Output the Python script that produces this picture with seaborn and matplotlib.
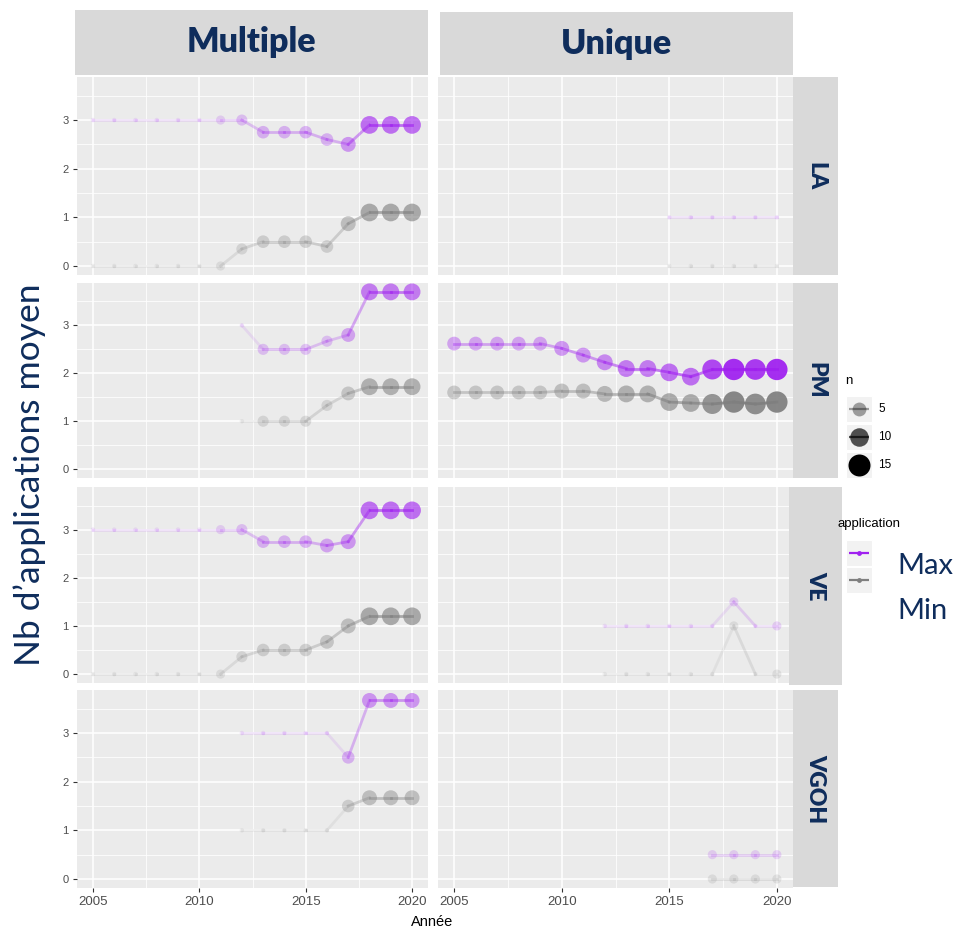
import numpy as np
import pandas as pd
import matplotlib
matplotlib.use("Agg")
import matplotlib.pyplot as plt
from matplotlib.lines import Line2D
from matplotlib.patches import Rectangle
import seaborn as sns

# ---- data: mean number of applications per year, by system and crop ----
years_full = list(range(2005, 2021))

la_mult_years = years_full
la_mult_max = [3, 3, 3, 3, 3, 3, 3.0, 3.0, 2.75, 2.75, 2.75, 2.6, 2.5, 2.9, 2.9, 2.9]
la_mult_min = [0, 0, 0, 0, 0, 0, 0, 0.35, 0.5, 0.5, 0.5, 0.4, 0.87, 1.1, 1.1, 1.1]
la_mult_n = [1, 1, 1, 1, 1, 1, 2, 3, 4, 4, 4, 4, 6, 9, 9, 9]

pm_mult_years = list(range(2012, 2021))
pm_mult_max = [3.0, 2.5, 2.5, 2.5, 2.67, 2.8, 3.7, 3.7, 3.7]
pm_mult_min = [1.0, 1.0, 1.0, 1.0, 1.33, 1.58, 1.72, 1.72, 1.72]
pm_mult_n = [1, 3, 3, 3, 3, 5, 8, 8, 8]

ve_mult_years = years_full
ve_mult_max = [3, 3, 3, 3, 3, 3, 3.0, 3.0, 2.75, 2.75, 2.75, 2.67, 2.75, 3.4, 3.4, 3.4]
ve_mult_min = [0, 0, 0, 0, 0, 0, 0, 0.36, 0.5, 0.5, 0.5, 0.67, 1.0, 1.2, 1.2, 1.2]
ve_mult_n = [1, 1, 1, 1, 1, 1, 2, 3, 4, 4, 4, 5, 6, 9, 9, 9]

vgoh_mult_years = list(range(2012, 2021))
vgoh_mult_max = [3, 3, 3, 3, 3, 2.5, 3.67, 3.67, 3.67]
vgoh_mult_min = [1, 1, 1, 1, 1, 1.5, 1.67, 1.67, 1.67]
vgoh_mult_n = [1, 1, 1, 1, 1, 4, 6, 6, 6]

la_uni_years = list(range(2015, 2021))
la_uni_max = [1, 1, 1, 1, 1, 1]
la_uni_min = [0, 0, 0, 0, 0, 0]
la_uni_n = [1, 1, 1, 1, 1, 1]

pm_uni_years = years_full
pm_uni_max = [2.62, 2.62, 2.62, 2.62, 2.62, 2.52, 2.38, 2.23, 2.1, 2.1, 2.02, 1.93, 2.08, 2.08, 2.08, 2.08]
pm_uni_min = [1.6, 1.6, 1.6, 1.6, 1.6, 1.63, 1.63, 1.57, 1.57, 1.57, 1.4, 1.38, 1.36, 1.4, 1.36, 1.4]
pm_uni_n = [5, 5, 5, 5, 5, 6, 6, 7, 8, 8, 9, 9, 12, 14, 13, 14]

ve_uni_years = list(range(2012, 2021))
ve_uni_max = [1, 1, 1, 1, 1, 1, 1.5, 1, 1]
ve_uni_min = [0, 0, 0, 0, 0, 0, 1, 0, 0]
ve_uni_n = [1, 1, 1, 1, 1, 1, 2, 1, 2]

vgoh_uni_years = list(range(2017, 2021))
vgoh_uni_max = [0.5, 0.5, 0.5, 0.5]
vgoh_uni_min = [0, 0, 0, 0]
vgoh_uni_n = [2, 2, 2, 2]

systems = ["Multiple", "Unique"]
crops = ["LA", "PM", "VE", "VGOH"]
applications = ["Max", "Min"]
n_breaks = [5, 10, 15]

facets = {
    ("Multiple", "LA"): (la_mult_years, la_mult_max, la_mult_min, la_mult_n),
    ("Multiple", "PM"): (pm_mult_years, pm_mult_max, pm_mult_min, pm_mult_n),
    ("Multiple", "VE"): (ve_mult_years, ve_mult_max, ve_mult_min, ve_mult_n),
    ("Multiple", "VGOH"): (vgoh_mult_years, vgoh_mult_max, vgoh_mult_min, vgoh_mult_n),
    ("Unique", "LA"): (la_uni_years, la_uni_max, la_uni_min, la_uni_n),
    ("Unique", "PM"): (pm_uni_years, pm_uni_max, pm_uni_min, pm_uni_n),
    ("Unique", "VE"): (ve_uni_years, ve_uni_max, ve_uni_min, ve_uni_n),
    ("Unique", "VGOH"): (vgoh_uni_years, vgoh_uni_max, vgoh_uni_min, vgoh_uni_n),
}

rows = []
for (sysname, crop), (yrs, vmax, vmin, nn) in facets.items():
    for app, vals in (("Max", vmax), ("Min", vmin)):
        for yr, v, k in zip(yrs, vals, nn):
            rows.append(dict(systeme=sysname, culture=crop, application=app,
                             Annee=yr, valeur=v, n=k))
df = pd.DataFrame(rows)

# ---- styling ----
plt.rcParams["font.family"] = ["Liberation Sans", "DejaVu Sans"]
TITLE_FONT = ["Lato", "DejaVu Sans"]
NAVY = "#0F2D5C"
colors = {"Max": "#A020F0", "Min": "#7F7F7F"}
N_MIN, N_MAX = 1, 15


def alpha_of(n):
    return 0.1 + 0.9 * (n - N_MIN) / (N_MAX - N_MIN)


def diam_px(n):
    return 4.5 + 17.5 * np.sqrt((n - N_MIN) / (N_MAX - N_MIN))


size_map = {int(k): (diam_px(k) * 0.72) ** 2 for k in range(N_MIN, N_MAX + 1)}

W, H = 965, 933
fig = plt.figure(figsize=(W / 100, H / 100), dpi=100)


def box(x0, y0, x1, y1):
    return fig.add_axes([x0 / W, 1 - y1 / H, (x1 - x0) / W, (y1 - y0) / H])


def fxy(px, py):
    return px / W, 1 - py / H


col_x = [(77, 428), (438, 793)]
row_y = [(77, 275), (283, 478), (487, 683), (690, 888)]

for ci, sysname in enumerate(systems):
    for ri, crop in enumerate(crops):
        ax = box(col_x[ci][0], row_y[ri][0], col_x[ci][1], row_y[ri][1])
        ax.set_facecolor("#EBEBEB")
        for sp in ax.spines.values():
            sp.set_visible(False)
        sub = df[(df.systeme == sysname) & (df.culture == crop)]

        # connecting lines, each segment carrying the alpha of its start point
        for app in applications:
            s = sub[sub.application == app].sort_values("Annee")
            xs, ys, ns = s.Annee.values, s.valeur.values, s.n.values
            for i in range(len(xs) - 1):
                sns.lineplot(x=[xs[i], xs[i + 1]], y=[ys[i], ys[i + 1]],
                             estimator=None, sort=False, color=colors[app],
                             alpha=alpha_of(ns[i]), lw=2.0, ax=ax, legend=False)
        # points sized and faded by n
        for app in applications:
            s = sub[sub.application == app].sort_values("Annee")
            sns.scatterplot(data=s, x="Annee", y="valeur", size="n",
                            sizes=size_map, legend=False, ax=ax,
                            color=colors[app], linewidth=0)
            coll = ax.collections[-1]
            base = matplotlib.colors.to_rgb(colors[app])
            coll.set_facecolor([(*base, alpha_of(k)) for k in s.n.values])
            coll.set_edgecolor("none")

        ax.set_xlim(2004.25, 2020.75)
        ax.set_ylim(-0.185, 3.885)
        ax.set_xticks([2005, 2010, 2015, 2020])
        ax.set_xticks([2007.5, 2012.5, 2017.5], minor=True)
        ax.set_yticks([0, 1, 2, 3])
        ax.set_yticks([0.5, 1.5, 2.5, 3.5], minor=True)
        ax.grid(which="major", color="white", lw=1.1)
        ax.grid(which="minor", color="white", lw=0.55)
        ax.set_axisbelow(True)
        ax.tick_params(which="minor", length=0)
        ax.set_xlabel("")
        ax.set_ylabel("")
        if ci == 0:
            ax.tick_params(axis="y", length=3, color="#333333", labelsize=8,
                           labelcolor="#4D4D4D", pad=3)
        else:
            ax.tick_params(axis="y", left=False, labelleft=False)
        if ri == len(crops) - 1:
            ax.tick_params(axis="x", length=3, color="#333333", labelsize=9.5,
                           labelcolor="#4D4D4D", pad=3)
        else:
            ax.tick_params(axis="x", bottom=False, labelbottom=False)

# facet strips
top_strips = [(75, 10, 428, 75), (440, 12, 793, 75)]
for (x0, y0, x1, y1), label in zip(top_strips, systems):
    sa = box(x0, y0, x1, y1)
    sa.set_facecolor("#D9D9D9")
    sa.set_xticks([]); sa.set_yticks([])
    for sp in sa.spines.values():
        sp.set_visible(False)
    sa.text(0.5, 0.5, label, ha="center", va="center", fontsize=24.5,
            fontweight="heavy", color=NAVY, family=TITLE_FONT,
            transform=sa.transAxes)

side_strips = [(793, 77, 838, 275), (793, 283, 838, 478),
               (789, 487, 842, 685), (793, 690, 838, 887)]
for (x0, y0, x1, y1), label in zip(side_strips, crops):
    sa = box(x0, y0, x1, y1)
    sa.set_facecolor("#D9D9D9")
    sa.set_xticks([]); sa.set_yticks([])
    for sp in sa.spines.values():
        sp.set_visible(False)
    sa.text(0.5, 0.5, label, ha="center", va="center", fontsize=16.5,
            fontweight="heavy", color=NAVY, rotation=270, family=TITLE_FONT,
            transform=sa.transAxes)

# axis titles
fig.text(*fxy(30, 475), "Nb d’applications moyen", rotation=90,
         ha="center", va="center", fontsize=25.5, color=NAVY, family=TITLE_FONT)
fig.text(*fxy(432, 922), "Année", ha="center", va="center",
         fontsize=10.5, color="black")


# ---- legends, drawn as keys in figure space ----
def legend_key(cy, color, alpha, ms, x0=846, x1=872):
    fig.add_artist(Rectangle(fxy(x0, cy + 13), (x1 - x0) / W, 26 / H,
                             transform=fig.transFigure, facecolor="#F2F2F2",
                             edgecolor="white", lw=0.8))
    fig.add_artist(Line2D([(x0 + 3) / W, (x1 - 3) / W], [1 - cy / H] * 2,
                          transform=fig.transFigure, color=color, alpha=alpha,
                          lw=1.6, solid_capstyle="butt"))
    fig.add_artist(Line2D([(x0 + x1) / 2 / W], [1 - cy / H],
                          transform=fig.transFigure, color=color, alpha=alpha,
                          marker="o", markersize=ms, markeredgewidth=0,
                          linestyle="none"))


fig.text(*fxy(845, 381), "n", ha="left", va="center", fontsize=9.5)
for cy, k in zip([409, 437, 465], n_breaks):
    legend_key(cy, "black", alpha_of(k), diam_px(k) * 0.72)
    fig.text(*fxy(878, cy), str(k), ha="left", va="center", fontsize=8.5)

fig.text(*fxy(838, 524), "application", ha="left", va="center", fontsize=9.5)
for cy, app in zip([553, 580], applications):
    legend_key(cy, colors[app], 1.0, 3.5)
fig.text(*fxy(897, 566), "Max", ha="left", va="center", fontsize=21,
         color=NAVY, family=TITLE_FONT)
fig.text(*fxy(897, 611), "Min", ha="left", va="center", fontsize=21,
         color=NAVY, family=TITLE_FONT)

fig.savefig("out.png", dpi=100, facecolor="white")
